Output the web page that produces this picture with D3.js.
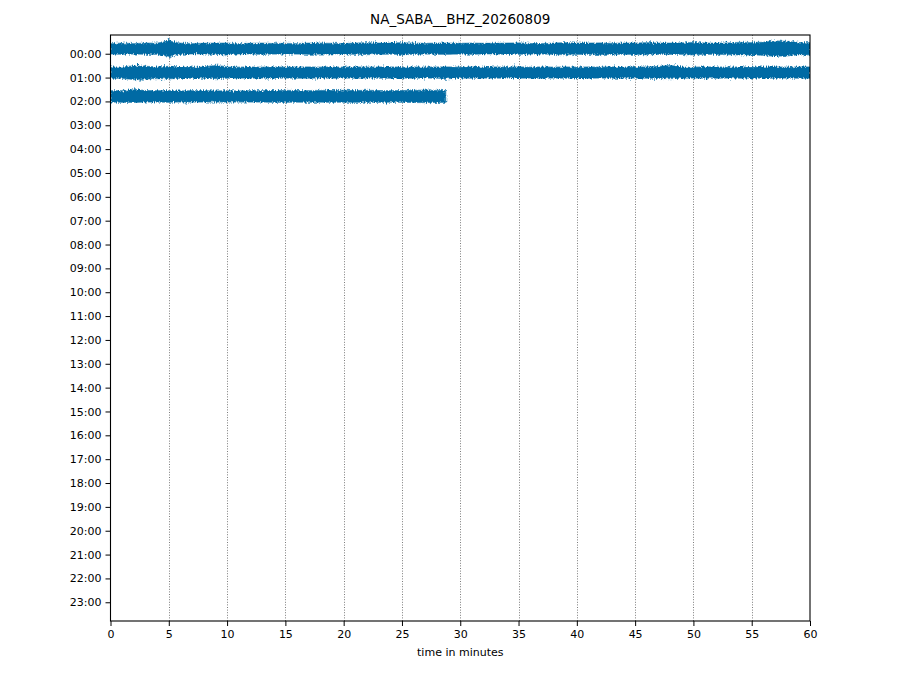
<!DOCTYPE html>
<html>
<head>
<meta charset="utf-8">
<script src="https://cdn.jsdelivr.net/npm/d3@7"></script>
<style>
  body { margin: 0; background: #fff; }
  text { font-family: "DejaVu Sans", sans-serif; fill: #000; }
</style>
</head>
<body>
<svg id="chart" width="920" height="690"></svg>
<script>
// station / day shown in the title
var title = "NA_SABA__BHZ_20260809";

// one row per hour of the day
var hourLabels = d3.range(24).map(function(h) { return (h < 10 ? "0" : "") + h + ":00"; });
var minuteTicks = [0, 5, 10, 15, 20, 25, 30, 35, 40, 45, 50, 55, 60];

// traces that have data: hour row and last minute with samples
var traceHours = [0, 1, 2];
var traceEnd = [60, 60, 28.75];

// envelope of each trace, one max / min per minute (counts)
var max0 = [500,550,500,550,550,800,550,500,520,560,550,500,520,560,500,520,500,560,540,520,500,560,600,560,560,600,550,520,560,560,520,560,520,520,560,580,520,500,560,600,560,560,580,520,560,560,600,560,560,580,620,560,560,580,620,600,650,780,720,620,600];
var min0 = [-520,-560,-520,-560,-560,-750,-560,-520,-520,-560,-620,-520,-520,-560,-520,-540,-520,-560,-540,-520,-520,-560,-580,-560,-540,-580,-560,-520,-560,-560,-520,-560,-520,-520,-560,-560,-540,-520,-560,-580,-560,-560,-580,-540,-560,-560,-580,-560,-560,-560,-600,-560,-560,-580,-620,-600,-650,-750,-700,-620,-600];
var max1 = [550,560,650,620,560,620,560,540,560,700,560,540,560,540,560,540,560,560,540,560,540,560,540,560,560,540,560,540,560,560,540,560,540,560,540,560,540,560,540,560,540,560,540,560,560,540,560,600,700,560,540,560,560,540,560,540,560,560,540,560,560];
var min1 = [-560,-580,-700,-650,-580,-620,-560,-560,-560,-600,-560,-540,-560,-540,-560,-540,-560,-560,-540,-560,-540,-560,-540,-560,-560,-540,-560,-540,-560,-600,-540,-560,-540,-560,-540,-560,-540,-560,-540,-560,-540,-560,-540,-560,-560,-540,-560,-580,-600,-560,-540,-560,-560,-540,-560,-540,-560,-560,-540,-560,-560];
var max2 = [560,560,700,580,560,560,540,560,560,540,560,540,560,560,580,600,580,560,600,580,600,580,600,580,560,580,600,620,600,580];
var min2 = [-560,-580,-600,-560,-560,-580,-540,-560,-560,-540,-560,-540,-560,-560,-580,-580,-560,-580,-560,-580,-560,-580,-560,-580,-560,-580,-600,-620,-600,-580];

// single large excursions: [minute, counts]
var spikes0 = [[5.0,1000],[5.1,-850],[9.8,-750],[14.2,700],[22.8,720],[25.2,700],[33.1,680],[39.5,-700],[46.3,720],[54.9,-720],[57.5,900],[57.8,-800],[58.6,850]];
var spikes1 = [[2.3,750],[2.6,-800],[2.9,700],[9.2,780],[13.5,-700],[28.7,-720],[34.6,700],[48.6,850],[51.2,-680]];
var spikes2 = [[2.0,800],[6.5,-700],[12.3,680],[18.8,700],[22.1,-720],[25.7,700],[27.4,720]];

var maxes = [max0, max1, max2];
var mins = [min0, min1, min2];
var spikes = [spikes0, spikes1, spikes2];

function drawDayplot() {
  var color = "#006ba4";
  var countsPerRow = 2385;   // vertical size of one hour row in counts
  var rowShift = 0.21;       // traces sit a little above their tick

  var svg = d3.select("#chart");
  var plotLeft = 110.5, plotRight = 810, plotTop = 35, plotBottom = 621;

  var x = d3.scaleLinear().domain([0, 60]).range([plotLeft, plotRight]);
  var y = d3.scaleLinear().domain([-0.785, 23.785]).range([plotTop, plotBottom]);

  // rough edge for the dense traces (they are drawn as an envelope)
  var filt = svg.append("defs").append("filter")
      .attr("id", "rough")
      .attr("x", "-2%").attr("y", "-60%")
      .attr("width", "104%").attr("height", "220%");
  filt.append("feTurbulence")
      .attr("type", "fractalNoise")
      .attr("baseFrequency", "0.9 0.35")
      .attr("numOctaves", 2)
      .attr("seed", 7)
      .attr("result", "noise");
  filt.append("feDisplacementMap")
      .attr("in", "SourceGraphic")
      .attr("in2", "noise")
      .attr("scale", 5)
      .attr("xChannelSelector", "A")
      .attr("yChannelSelector", "R");

  var clip = svg.select("defs").append("clipPath").attr("id", "plotclip");
  clip.append("rect")
      .attr("x", plotLeft).attr("y", plotTop)
      .attr("width", plotRight - plotLeft).attr("height", plotBottom - plotTop);

  // dotted grid every 5 minutes
  svg.append("g")
    .selectAll("line")
    .data(minuteTicks.slice(1, -1))
    .enter().append("line")
      .attr("x1", function(d) { return Math.round(x(d)) + 0.5; })
      .attr("x2", function(d) { return Math.round(x(d)) + 0.5; })
      .attr("y1", plotTop)
      .attr("y2", plotBottom)
      .attr("stroke", "#444")
      .attr("stroke-width", 0.7)
      .attr("stroke-dasharray", "1,1.6");

  var traces = svg.append("g").attr("clip-path", "url(#plotclip)")
    .append("g").attr("filter", "url(#rough)");

  // the traces
  traceHours.forEach(function(hour, k) {
    var pts = maxes[k].map(function(v, i) {
      return { t: Math.min(i, traceEnd[k]), hi: v, lo: mins[k][i] };
    });
    function yv(c) { return y(hour - rowShift - c / countsPerRow); }

    var area = d3.area()
        .x(function(d) { return x(d.t); })
        .y0(function(d) { return yv(d.lo); })
        .y1(function(d) { return yv(d.hi); });

    traces.append("path")
        .datum(pts)
        .attr("d", area)
        .attr("fill", color)
        .attr("stroke", color)
        .attr("stroke-opacity", 0.5)
        .attr("stroke-width", 1.4);

    traces.append("g")
      .selectAll("line")
      .data(spikes[k])
      .enter().append("line")
        .attr("x1", function(d) { return x(d[0]); })
        .attr("x2", function(d) { return x(d[0]); })
        .attr("y1", yv(0))
        .attr("y2", function(d) { return yv(d[1]); })
        .attr("stroke", color)
        .attr("stroke-width", 1.2);
  });

  // axes
  var xAxis = d3.axisBottom(x).tickValues(minuteTicks).tickSize(5).tickPadding(4);
  var yAxis = d3.axisLeft(y).tickValues(d3.range(24))
      .tickFormat(function(d) { return hourLabels[d]; })
      .tickSize(5).tickPadding(4);

  var gx = svg.append("g").attr("transform", "translate(0," + plotBottom + ")").call(xAxis);
  var gy = svg.append("g").attr("transform", "translate(" + plotLeft + ",0)").call(yAxis);
  [gx, gy].forEach(function(g) {
    g.select(".domain").remove();
    g.selectAll("line").attr("stroke", "#000").attr("stroke-width", 1);
    g.selectAll("text").attr("font-size", 11).attr("font-family", "DejaVu Sans");
  });

  // frame
  svg.append("rect")
      .attr("x", plotLeft).attr("y", plotTop)
      .attr("width", plotRight - plotLeft).attr("height", plotBottom - plotTop)
      .attr("fill", "none").attr("stroke", "#000").attr("stroke-width", 1.1);

  svg.append("text")
      .attr("x", (plotLeft + plotRight) / 2).attr("y", 24)
      .attr("text-anchor", "middle")
      .attr("font-size", 13.5)
      .text(title);

  svg.append("text")
      .attr("x", (plotLeft + plotRight) / 2).attr("y", 656)
      .attr("text-anchor", "middle")
      .attr("font-size", 11)
      .text("time in minutes");
}

drawDayplot();
</script>
</body>
</html>
